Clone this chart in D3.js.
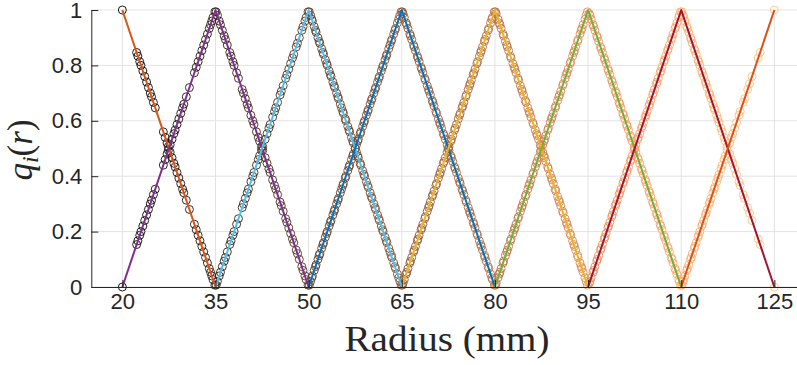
<!DOCTYPE html>
<html>
<head>
<meta charset="utf-8">
<script src="https://cdn.jsdelivr.net/npm/d3@7/dist/d3.min.js"></script>
<style>
  html, body { margin: 0; padding: 0; background: #fff; }
  svg { display: block; }
</style>
</head>
<body>
<svg id="chart" width="797" height="365"></svg>
<script>
// ---- data ----
const knots = [20, 35, 50, 65, 80, 95, 110, 125];
const q1 = [1, 0, 0, 0, 0, 0, 0, 0];
const q2 = [0, 1, 0, 0, 0, 0, 0, 0];
const q3 = [0, 0, 1, 0, 0, 0, 0, 0];
const q4 = [0, 0, 0, 1, 0, 0, 0, 0];
const q5 = [0, 0, 0, 0, 1, 0, 0, 0];
const q6 = [0, 0, 0, 0, 0, 1, 0, 0];
const q7 = [0, 0, 0, 0, 0, 0, 1, 0];
const q8 = [0, 0, 0, 0, 0, 0, 0, 1];
const seriesColors = ["#D95319", "#7E2F8E", "#4DBEEE", "#0072BD", "#EDB120", "#77AC30", "#A2142F", "#D95319"];
const xTicks = [20, 35, 50, 65, 80, 95, 110, 125];
const yTicks = [0, 0.2, 0.4, 0.6, 0.8, 1];
// sampled radii (mm) of the measurement points
const sampleRadii = [
  20.0, 22.3, 22.5, 22.8, 23.0, 23.3, 23.6, 23.9, 24.2, 24.5, 24.7, 25.0, 25.3,
  26.6, 26.9, 27.2, 27.4, 27.7, 28.0, 28.3, 28.5, 28.8, 29.1, 29.4, 29.7, 29.9, 30.3, 30.8,
  31.6, 31.9, 32.2, 32.5, 32.8, 33.1, 33.4, 33.7, 34.0, 34.2, 34.4, 34.6, 34.9,
  35.1, 35.3, 35.6, 35.8, 36.1, 36.4, 36.6, 36.9, 37.3, 37.5, 37.8, 38.0, 38.4, 38.7, 39.3, 39.5,
  39.8, 40.1, 40.3, 40.7, 41.0, 41.2, 41.6, 41.9, 42.1, 42.4, 42.6, 43.0, 43.3, 43.6, 43.8, 44.2,
  44.5, 44.7, 45.0, 45.4, 45.6, 45.9, 46.3, 46.5, 46.8, 47.1, 47.4, 47.6, 48.0, 48.2, 48.5, 48.9,
  49.1, 49.4, 49.6, 49.9,
  50.1, 50.3, 50.5, 50.6, 50.9, 51.1, 51.2, 51.5, 51.7, 51.8, 52.1, 52.3, 52.4, 52.7, 52.9, 53.0,
  53.3, 53.5, 53.6, 53.9, 54.1, 54.2, 54.5, 54.7, 54.8, 55.1, 55.3, 55.5, 55.6, 55.9, 56.0, 56.3,
  56.5, 56.6, 56.9, 57.1, 57.2, 57.5, 57.7, 57.9, 58.0, 58.3, 58.4, 58.7, 58.9, 59.0, 59.3, 59.5,
  59.6, 59.9, 60.1, 60.2, 60.5, 60.7, 60.8, 61.1, 61.3, 61.4, 61.7, 61.9, 62.0, 62.3, 62.5, 62.6,
  62.9, 63.1, 63.3, 63.4, 63.7, 63.9, 64.0, 64.3, 64.5, 64.7, 64.9,
  65.1, 65.2, 65.4, 65.7, 65.8, 66.0, 66.3, 66.4, 66.6, 66.9, 67.0, 67.2, 67.5, 67.6, 67.8, 68.1,
  68.2, 68.4, 68.7, 68.8, 69.1, 69.3, 69.4, 69.6, 69.9, 70.0, 70.2, 70.5, 70.6, 70.9, 71.1, 71.2,
  71.4, 71.7, 71.8, 72.0, 72.3, 72.5, 72.6, 72.9, 73.0, 73.2, 73.5, 73.6, 73.8, 74.1, 74.3, 74.4,
  74.7, 74.8, 75.0, 75.3, 75.4, 75.7, 75.9, 76.0, 76.2, 76.5, 76.6, 76.8, 77.1, 77.2, 77.5, 77.7,
  77.8, 78.0, 78.3, 78.4, 78.6, 78.9, 79.0, 79.3, 79.5, 79.6, 79.9,
  80.1, 80.2, 80.5, 80.7, 80.8, 81.0, 81.3, 81.4, 81.7, 81.9, 82.0, 82.2, 82.5, 82.6, 82.9, 83.1,
  83.2, 83.4, 83.7, 83.8, 84.1, 84.3, 84.4, 84.6, 84.9, 85.0, 85.3, 85.5, 85.6, 85.8, 86.1, 86.2,
  86.5, 86.7, 86.8, 87.0, 87.3, 87.4, 87.7, 87.9, 88.0, 88.2, 88.5, 88.6, 88.9, 89.1, 89.2, 89.4,
  89.7, 89.8, 90.1, 90.3, 90.4, 90.6, 90.9, 91.0, 91.3, 91.5, 91.6, 91.8, 92.1, 92.2, 92.5, 92.7,
  92.8, 93.0, 93.3, 93.4, 93.7, 93.9, 94.0, 94.2, 94.5, 94.7, 94.9,
  95.2, 95.3, 95.5, 95.8, 95.9, 96.1, 96.4, 96.5, 96.7, 97.0, 97.1, 97.3, 97.6, 97.7, 97.9, 98.2,
  98.3, 98.5, 98.8, 98.9, 99.1, 99.4, 99.5, 99.7, 100.0, 100.1, 100.3, 100.6, 100.7, 100.9, 101.2,
  101.3, 101.5, 101.8, 101.9, 102.1, 102.4, 102.5, 102.7, 103.0, 103.1, 103.3, 103.6, 103.7, 103.9,
  104.2, 104.3, 104.5, 104.8, 104.9, 105.1, 105.4, 105.5, 105.7, 106.0, 106.1, 106.3, 106.6, 106.7,
  106.9, 107.2, 107.3, 107.5, 107.8, 107.9, 108.1, 108.4, 108.5, 108.7, 109.0, 109.1, 109.3, 109.6,
  109.7, 109.9,
  110.1, 110.3, 110.4, 110.6, 110.9, 111.0, 111.2, 111.5, 111.6, 111.8, 112.1, 112.2, 112.4, 112.7,
  112.8, 113.0, 113.3, 113.4, 113.6, 113.9, 114.0, 114.2, 114.5, 114.6, 114.8, 115.1, 115.3, 115.4,
  115.7, 115.9, 116.1, 116.4, 116.6, 116.9, 117.1, 117.4, 117.8, 118.1, 118.3, 118.6, 118.9, 119.3,
  119.5, 120.0, 120.2, 120.7, 121.0, 121.4, 122.4, 122.7, 125.0
];

// ---- chart ----
const svg = d3.select("#chart");
const x = d3.scaleLinear().domain([15, 129]).range([91.3, 799.2]);
const y = d3.scaleLinear().domain([0, 1]).range([287, 10]);
const series = [q1, q2, q3, q4, q5, q6, q7, q8];
const copper = t => d3.rgb(255 * Math.min(1, 1.25 * t), 255 * 0.7812 * t, 255 * 0.4975 * t).toString();
const markerColor = d3.scaleLinear().domain([knots[0], knots[knots.length - 1]]).range([0, 1]);

// grid
const grid = svg.append("g").attr("stroke", "#e3e3e3").attr("stroke-width", 1);
grid.selectAll(".gx").data(xTicks).join("line")
  .attr("x1", d => x(d)).attr("x2", d => x(d)).attr("y1", y(0)).attr("y2", y(1));
grid.selectAll(".gy").data(yTicks).join("line")
  .attr("x1", x.range()[0]).attr("x2", x.range()[1]).attr("y1", d => y(d)).attr("y2", d => y(d));

// markers
const pts = [];
sampleRadii.forEach(r => {
  let k = d3.bisectRight(knots, r) - 1;
  if (k >= knots.length - 1) k = knots.length - 2;
  [k, k + 1].forEach(i => {
    const interp = d3.scaleLinear().domain(knots).range(series[i]);
    pts.push({ r: r, q: interp(r) });
  });
});
svg.append("g").selectAll("circle").data(pts).join("circle")
  .attr("cx", d => x(d.r)).attr("cy", d => y(d.q)).attr("r", 4)
  .attr("fill", "none").attr("stroke-width", 0.9)
  .attr("stroke", d => copper(markerColor(d.r)));

// lines
const line = d3.line().x(d => x(d[0])).y(d => y(d[1]));
series.forEach((s, i) => {
  const lo = Math.max(0, i - 1), hi = Math.min(knots.length - 1, i + 1);
  const seg = [];
  for (let j = lo; j <= hi; j++) seg.push([knots[j], s[j]]);
  svg.append("path").attr("d", line(seg)).attr("fill", "none")
    .attr("stroke", seriesColors[i]).attr("stroke-width", 2).attr("stroke-linejoin", "round");
});

// axes
const axisFont = "'Liberation Sans', Arial, Helvetica, sans-serif";
const gx = svg.append("g").attr("transform", `translate(0,${y(0)})`)
  .call(d3.axisBottom(x).tickValues(xTicks).tickSize(-7).tickSizeOuter(0).tickPadding(6).tickFormat(d3.format("d")));
const gy = svg.append("g").attr("transform", `translate(${x.range()[0]},0)`)
  .call(d3.axisLeft(y).tickValues(yTicks).tickSize(-7).tickSizeOuter(0).tickPadding(9).tickFormat(d => String(d)));
[gx, gy].forEach(g => {
  g.attr("color", "#262626");
  g.selectAll("text").attr("font-family", axisFont).attr("font-size", "22px").attr("fill", "#262626");
  g.select(".domain").attr("stroke", "#262626").attr("stroke-width", 1);
  g.selectAll(".tick line").attr("stroke", "#262626");
});

// axis labels
svg.append("text").attr("x", 447).attr("y", 351).attr("text-anchor", "middle")
  .attr("font-family", "'Liberation Serif', 'Times New Roman', serif").attr("font-size", "35px")
  .attr("textLength", 205).attr("lengthAdjust", "spacingAndGlyphs")
  .attr("fill", "#262626").text("Radius (mm)");

const yl = svg.append("text").attr("transform", "translate(32,150) rotate(-90)")
  .attr("text-anchor", "middle")
  .attr("font-family", "'Liberation Serif', 'Times New Roman', serif").attr("font-size", "35px")
  .attr("fill", "#262626");
yl.append("tspan").attr("font-style", "italic").text("q");
yl.append("tspan").attr("font-style", "italic").attr("font-size", "24px").attr("dy", "6").text("i");
yl.append("tspan").attr("dy", "-6").text("(");
yl.append("tspan").attr("font-style", "italic").text("r");
yl.append("tspan").text(")");
</script>
</body>
</html>
